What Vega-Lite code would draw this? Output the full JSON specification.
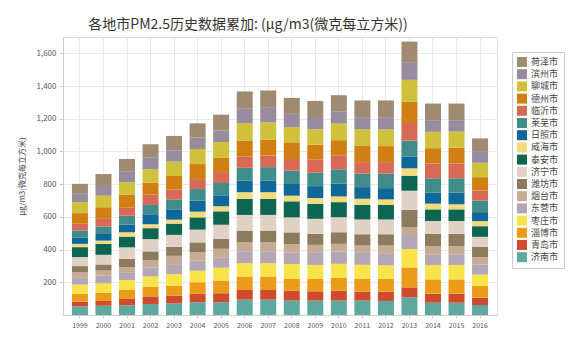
{
  "$schema": "https://vega.github.io/schema/vega-lite/v6.json",
  "width": 434,
  "height": 278,
  "autosize": {"type": "none"},
  "padding": {"left": 63, "top": 37, "right": 83, "bottom": 33},
  "background": "#ffffff",
  "config": {
    "font": "Noto Sans CJK SC",
    "view": {"stroke": "#dddddd"}
  },
  "title": {
    "text": "各地市PM2.5历史数据累加: (µg/m3(微克每立方米))",
    "fontSize": 14,
    "fontWeight": "normal",
    "color": "#333333",
    "anchor": "middle",
    "dx": -32,
    "offset": 5
  },
  "datasets": {
    "ranks": [
      {"city": "济南市", "rank": 1}, {"city": "青岛市", "rank": 2}, {"city": "淄博市", "rank": 3},
      {"city": "枣庄市", "rank": 4}, {"city": "东营市", "rank": 5}, {"city": "烟台市", "rank": 6},
      {"city": "潍坊市", "rank": 7}, {"city": "济宁市", "rank": 8}, {"city": "泰安市", "rank": 9},
      {"city": "威海市", "rank": 10}, {"city": "日照市", "rank": 11}, {"city": "莱芜市", "rank": 12},
      {"city": "临沂市", "rank": 13}, {"city": "德州市", "rank": 14}, {"city": "聊城市", "rank": 15},
      {"city": "滨州市", "rank": 16}, {"city": "荷泽市", "rank": 17}
    ]
  },
  "data": {
    "values": [
      {"year": "1999", "济南市": 53, "青岛市": 29, "淄博市": 47, "枣庄市": 57, "东营市": 45, "烟台市": 31, "潍坊市": 37, "济宁市": 55, "泰安市": 61, "威海市": 20, "日照市": 37, "莱芜市": 45, "临沂市": 41, "德州市": 65, "聊城市": 67, "滨州市": 51, "荷泽市": 61},
      {"year": "2000", "济南市": 57, "青岛市": 29, "淄博市": 49, "枣庄市": 59, "东营市": 47, "烟台市": 31, "潍坊市": 37, "济宁市": 59, "泰安市": 67, "威海市": 20, "日照市": 45, "莱芜市": 41, "临沂市": 47, "德州市": 71, "聊城市": 71, "滨州市": 65, "荷泽市": 67},
      {"year": "2001", "济南市": 59, "青岛市": 39, "淄博市": 55, "枣庄市": 61, "东营市": 47, "烟台市": 31, "潍坊市": 51, "济宁市": 71, "泰安市": 65, "威海市": 27, "日照市": 47, "莱芜市": 55, "临沂市": 51, "德州市": 78, "聊城市": 75, "滨州市": 67, "荷泽市": 75},
      {"year": "2002", "济南市": 67, "青岛市": 47, "淄博市": 59, "枣庄市": 63, "东营市": 55, "烟台市": 45, "潍坊市": 53, "济宁市": 75, "泰安市": 67, "威海市": 24, "日照市": 61, "莱芜市": 57, "临沂市": 65, "德州市": 71, "聊城市": 82, "滨州市": 71, "荷泽市": 82},
      {"year": "2003", "济南市": 71, "青岛市": 47, "淄博市": 61, "枣庄市": 71, "东营市": 61, "烟台市": 51, "潍坊市": 55, "济宁市": 73, "泰安市": 69, "威海市": 24, "日照市": 63, "莱芜市": 61, "临沂市": 61, "德州市": 82, "聊城市": 88, "滨州市": 69, "荷泽市": 88},
      {"year": "2004", "济南市": 78, "青岛市": 51, "淄博市": 71, "枣庄市": 71, "东营市": 61, "烟台市": 51, "潍坊市": 61, "济宁市": 78, "泰安市": 75, "威海市": 35, "日照市": 67, "莱芜市": 71, "临沂市": 61, "德州市": 92, "聊城市": 92, "滨州市": 71, "荷泽市": 86},
      {"year": "2005", "济南市": 78, "青岛市": 55, "淄博市": 78, "枣庄市": 78, "东营市": 61, "烟台市": 55, "潍坊市": 61, "济宁市": 86, "泰安市": 82, "威海市": 31, "日照市": 67, "莱芜市": 75, "临沂市": 67, "德州市": 88, "聊城市": 96, "滨州市": 71, "荷泽市": 96},
      {"year": "2006", "济南市": 94, "青岛市": 59, "淄博市": 82, "枣庄市": 82, "东营市": 73, "烟台市": 55, "潍坊市": 71, "济宁市": 96, "泰安市": 98, "威海市": 41, "日照市": 71, "莱芜市": 78, "临沂市": 69, "德州市": 98, "聊城市": 106, "滨州市": 88, "荷泽市": 106},
      {"year": "2007", "济南市": 94, "青岛市": 59, "淄博市": 82, "枣庄市": 82, "东营市": 73, "烟台市": 55, "潍坊市": 71, "济宁市": 96, "泰安市": 98, "威海市": 41, "日照市": 71, "莱芜市": 82, "临沂市": 71, "德州市": 96, "聊城市": 108, "滨州市": 92, "荷泽市": 102},
      {"year": "2008", "济南市": 88, "青岛市": 61, "淄博市": 71, "枣庄市": 92, "东营市": 71, "烟台市": 51, "潍坊市": 71, "济宁市": 92, "泰安市": 98, "威海市": 35, "日照市": 71, "莱芜市": 82, "临沂市": 71, "德州市": 102, "聊城市": 92, "滨州市": 82, "荷泽市": 98},
      {"year": "2009", "济南市": 88, "青岛市": 57, "淄博市": 75, "枣庄市": 86, "东营市": 78, "烟台市": 45, "潍坊市": 67, "济宁市": 92, "泰安市": 92, "威海市": 35, "日照市": 73, "莱芜市": 82, "临沂市": 82, "德州市": 90, "聊城市": 94, "滨州市": 75, "荷泽市": 98},
      {"year": "2010", "济南市": 88, "青岛市": 61, "淄博市": 78, "枣庄市": 86, "东营市": 75, "烟台市": 47, "潍坊市": 71, "济宁市": 92, "泰安市": 92, "威海市": 35, "日照市": 78, "莱芜市": 88, "临沂市": 86, "德州市": 92, "聊城市": 102, "滨州市": 75, "荷泽市": 98},
      {"year": "2011", "济南市": 88, "青岛市": 55, "淄博市": 78, "枣庄市": 86, "东营市": 73, "烟台市": 45, "潍坊市": 69, "济宁市": 90, "泰安市": 90, "威海市": 37, "日照市": 71, "莱芜市": 82, "临沂市": 71, "德州市": 102, "聊城市": 98, "滨州市": 75, "荷泽市": 102},
      {"year": "2012", "济南市": 86, "青岛市": 57, "淄博市": 78, "枣庄市": 82, "东营市": 71, "烟台市": 51, "潍坊市": 69, "济宁市": 90, "泰安市": 90, "威海市": 33, "日照市": 69, "莱芜市": 88, "临沂市": 71, "德州市": 98, "聊城市": 102, "滨州市": 75, "荷泽市": 102},
      {"year": "2013", "济南市": 108, "青岛市": 61, "淄博市": 122, "枣庄市": 112, "东营市": 86, "烟台市": 47, "潍坊市": 108, "济宁市": 116, "泰安市": 92, "威海市": 45, "日照市": 71, "莱芜市": 98, "临沂市": 108, "德州市": 131, "聊城市": 133, "滨州市": 108, "荷泽市": 126},
      {"year": "2014", "济南市": 75, "青岛市": 55, "淄博市": 88, "枣庄市": 88, "东营市": 65, "烟台市": 51, "潍坊市": 75, "济宁市": 78, "泰安市": 71, "威海市": 35, "日照市": 67, "莱芜市": 88, "临沂市": 90, "德州市": 94, "聊城市": 100, "滨州市": 71, "荷泽市": 102},
      {"year": "2015", "济南市": 75, "青岛市": 55, "淄博市": 88, "枣庄市": 88, "东营市": 65, "烟台市": 51, "潍坊市": 75, "济宁市": 78, "泰安市": 71, "威海市": 31, "日照市": 71, "莱芜市": 88, "临沂市": 90, "德州市": 98, "聊城市": 98, "滨州市": 69, "荷泽市": 102},
      {"year": "2016", "济南市": 61, "青岛市": 45, "淄博市": 71, "枣庄市": 71, "东营市": 61, "烟台市": 45, "潍坊市": 63, "济宁市": 61, "泰安市": 65, "威海市": 31, "日照市": 55, "莱芜市": 71, "临沂市": 61, "德州市": 82, "聊城市": 88, "滨州市": 71, "荷泽市": 78}
    ]
  },
  "transform": [
    {"fold": ["济南市", "青岛市", "淄博市", "枣庄市", "东营市", "烟台市", "潍坊市", "济宁市", "泰安市", "威海市", "日照市", "莱芜市", "临沂市", "德州市", "聊城市", "滨州市", "荷泽市"], "as": ["city", "value"]},
    {"lookup": "city", "from": {"data": {"name": "ranks"}, "key": "city", "fields": ["rank"]}}
  ],
  "mark": {"type": "bar"},
  "encoding": {
    "x": {
      "field": "year",
      "type": "ordinal",
      "scale": {"paddingInner": 0.32, "paddingOuter": 0.38},
      "axis": {
        "title": null,
        "labelAngle": 0,
        "labelFontSize": 7,
        "labelColor": "#555555",
        "grid": true,
        "gridColor": "#e8e8e8",
        "domainColor": "#cccccc",
        "tickColor": "#cccccc",
        "tickSize": 3,
        "labelPadding": 3
      }
    },
    "y": {
      "field": "value",
      "type": "quantitative",
      "aggregate": "sum",
      "stack": "zero",
      "scale": {"domain": [0, 1700], "nice": false},
      "axis": {
        "title": "μg/m3(微克每立方米)",
        "titleFontSize": 8,
        "titleFontWeight": "normal",
        "titleColor": "#444444",
        "titlePadding": 10,
        "values": [200, 400, 600, 800, 1000, 1200, 1400, 1600],
        "format": ",.0f",
        "labelFontSize": 8,
        "labelColor": "#555555",
        "grid": true,
        "gridColor": "#e8e8e8",
        "domainColor": "#cccccc",
        "tickColor": "#cccccc",
        "tickSize": 4,
        "labelPadding": 3
      }
    },
    "color": {
      "field": "city",
      "type": "nominal",
      "sort": ["荷泽市", "滨州市", "聊城市", "德州市", "临沂市", "莱芜市", "日照市", "威海市", "泰安市", "济宁市", "潍坊市", "烟台市", "东营市", "枣庄市", "淄博市", "青岛市", "济南市"],
      "scale": {
        "domain": ["荷泽市", "滨州市", "聊城市", "德州市", "临沂市", "莱芜市", "日照市", "威海市", "泰安市", "济宁市", "潍坊市", "烟台市", "东营市", "枣庄市", "淄博市", "青岛市", "济南市"],
        "range": ["#a08a72", "#968c9e", "#cfc13a", "#d07f12", "#d86a55", "#3f8c8a", "#10679a", "#f3db7c", "#0c6652", "#dfd2c4", "#8e7a5c", "#c4ab92", "#b4a6b4", "#f7e34a", "#eb9a1a", "#cf4b2e", "#5fa8a0"]
      },
      "legend": {
        "title": null,
        "orient": "none",
        "legendX": 449,
        "legendY": 15,
        "symbolType": "square",
        "symbolSize": 100,
        "symbolStrokeWidth": 0,
        "labelFontSize": 9,
        "labelColor": "#444444",
        "rowPadding": 2.2,
        "padding": 5,
        "strokeColor": "#cccccc"
      }
    },
    "order": {"field": "rank", "type": "quantitative", "sort": "ascending"}
  }
}
